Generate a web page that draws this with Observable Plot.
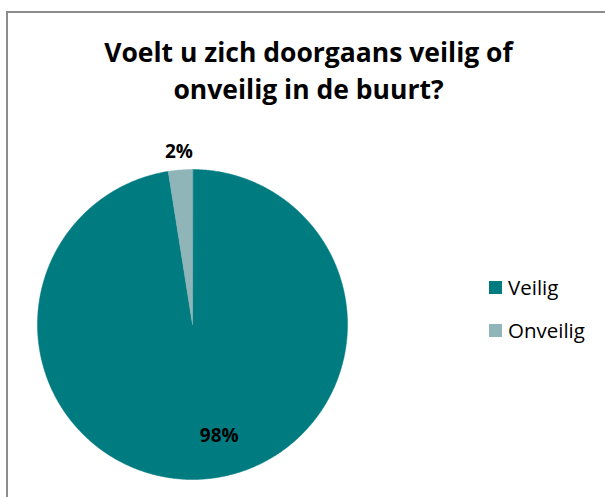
<!DOCTYPE html>
<html><head><meta charset="utf-8">
<script src="https://cdn.jsdelivr.net/npm/d3@7"></script>
<script src="https://cdn.jsdelivr.net/npm/@observablehq/plot@0.6"></script>
<style>
html,body{margin:0;padding:0;background:#fff;overflow:hidden;}
#wrap{position:relative;width:605px;height:497px;overflow:hidden;font-family:"Open Sans",Lato,sans-serif;color:#000;}
#frame{position:absolute;left:6px;top:11px;width:800px;height:800px;border:2px solid #8c8c8c;box-sizing:border-box;}
#title{position:absolute;left:6px;width:605px;top:34px;text-align:center;font-weight:bold;font-size:26.5px;line-height:37px;}
#chart{position:absolute;left:0;top:0;}
.lg{position:absolute;left:489px;display:flex;align-items:center;font-size:20.5px;line-height:20px;}
.sw{width:13px;height:13px;margin-right:6px;flex:none;}
</style></head>
<body>
<div id="wrap">
  <div id="frame"></div>
  <div id="chart"></div>
  <div id="title"></div>
  <div id="legend"></div>
</div>
<script>
const categories = ["Veilig", "Onveilig"];
const values = [97.5, 2.5];
const labels = ["98%", "2%"];
const colors = ["#007b80", "#8fb5b9"];
const titleLines = ["Voelt u zich doorgaans veilig of", "onveilig in de buurt?"];

document.getElementById("title").innerHTML = titleLines.join("<br>");

const arcs = d3.pie().sort(null)(values);
const pts = [];
arcs.forEach((a, i) => {
  pts.push({name: categories[i], x: 0, y: 0});
  const n = Math.max(2, Math.ceil((a.endAngle - a.startAngle) / (Math.PI / 360)));
  for (let k = 0; k <= n; k++) {
    const t = a.startAngle + (a.endAngle - a.startAngle) * k / n;
    pts.push({name: categories[i], x: Math.sin(t), y: Math.cos(t)});
  }
});
const labelData = arcs.map((a, i) => {
  const m = (a.startAngle + a.endAngle) / 2;
  const r = i === 0 ? 0.72 : 1.12;
  return {text: labels[i], x: Math.sin(m) * r, y: Math.cos(m) * r, idx: i};
});

const chart = Plot.plot({
  width: 605, height: 497, margin: 0,
  x: {domain: [-1, 1], range: [37, 347], axis: null},
  y: {domain: [-1, 1], range: [479, 169], axis: null},
  color: {domain: categories, range: colors},
  style: {background: "transparent", fontFamily: "'Open Sans', sans-serif"},
  marks: [
    Plot.line(pts, {x: "x", y: "y", z: "name", fill: "name", stroke: "name", strokeWidth: 0.5, curve: "linear-closed"}),
    Plot.text(labelData.filter(d => d.idx === 0), {x: "x", y: "y", text: "text", dx: 18, fontSize: 19, fontWeight: "bold", fill: "black"}),
    Plot.text(labelData.filter(d => d.idx !== 0), {x: "x", y: "y", text: "text", fontSize: 19, fontWeight: "bold", fill: "black"})
  ]
});
document.getElementById("chart").appendChild(chart);

const legendTops = [277, 320];
const lg = document.getElementById("legend");
categories.forEach((c, i) => {
  const d = document.createElement("div");
  d.className = "lg";
  d.style.top = legendTops[i] + "px";
  d.innerHTML = `<span class="sw" style="background:${colors[i]}"></span><span>${c}</span>`;
  lg.appendChild(d);
});
</script>
</body></html>
